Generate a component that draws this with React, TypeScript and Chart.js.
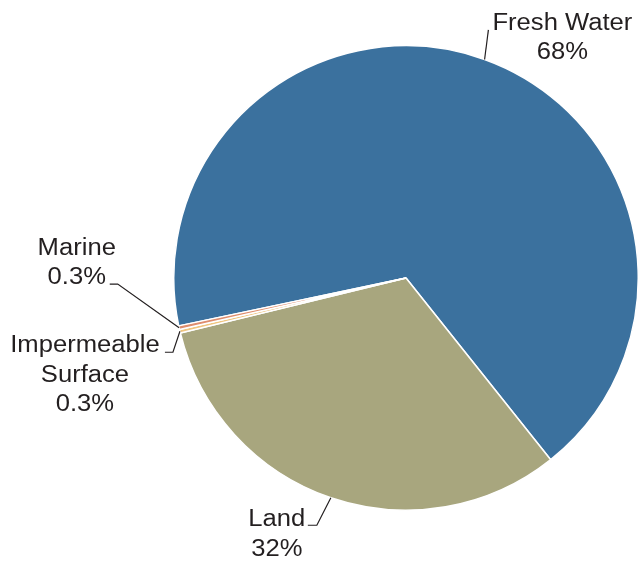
import React, { useEffect, useRef } from "react";
import { Chart, registerables } from "chart.js";

Chart.register(...registerables);

const categories = ["Fresh Water", "Land", "Impermeable Surface", "Marine"];
const values = [67.6, 31.9, 0.25, 0.25];
const percentLabels = ["68%", "32%", "0.3%", "0.3%"];
const labelLines = [
  ["Fresh Water", "68%"],
  ["Land", "32%"],
  ["Impermeable", "Surface", "0.3%"],
  ["Marine", "0.3%"],
];
const colors = ["#3b719e", "#a8a67e", "#efc57f", "#de8d6d"];

// leader/label layout relative to each slice's outer-edge midpoint
const labelLayout = [
  { elbow: [3.8, -29.6], tail: 0, text: [74, 0], attach: 0 },
  { elbow: [-14, 27.5], tail: -9, text: [-31, 1], attach: 0 },
  { elbow: [-7, 21], tail: -8, text: [-80, 0], attach: 0 },
  { elbow: [-61.4, -43.6], tail: -8, text: [-33, 0], attach: 1 },
];

const LINE_H = 29.5;
const TEXT_SCALE_X = 1.09;

const leaderPlugin = {
  id: "leaderLabels",
  afterDraw(chart: any) {
    const ctx = chart.ctx;
    const meta = chart.getDatasetMeta(0);
    ctx.save();
    meta.data.forEach((arc: any, i: number) => {
      const p = arc.getProps(["x", "y", "startAngle", "endAngle", "outerRadius"], true);
      const mid = (p.startAngle + p.endAngle) / 2;
      const ax = p.x + Math.cos(mid) * p.outerRadius;
      const ay = p.y + Math.sin(mid) * p.outerRadius;
      const lay = labelLayout[i];
      const ex = ax + lay.elbow[0];
      const ey = ay + lay.elbow[1];
      const tx = ex + lay.tail;
      const ty = ey;
      ctx.strokeStyle = "#231f20";
      ctx.lineWidth = 1.2;
      ctx.beginPath();
      ctx.moveTo(ax, ay);
      ctx.lineTo(ex, ey);
      ctx.lineTo(tx, ty);
      ctx.stroke();

      const cx = tx + lay.text[0];
      const baseY = ty + lay.text[1] - lay.attach * LINE_H;
      ctx.fillStyle = "#231f20";
      ctx.font = '23.5px "Liberation Sans", Arial, sans-serif';
      ctx.textAlign = "center";
      ctx.textBaseline = "alphabetic";
      labelLines[i].forEach((line, j) => {
        ctx.save();
        ctx.translate(cx, baseY + j * LINE_H);
        ctx.scale(TEXT_SCALE_X, 1);
        ctx.fillText(line, 0, 0);
        ctx.restore();
      });
    });
    ctx.restore();
  },
};

export default function App() {
  const ref = useRef<HTMLCanvasElement>(null);
  useEffect(() => {
    if (!ref.current) return;
    const chart = new Chart(ref.current, {
      type: "pie",
      data: {
        labels: categories.map((c, i) => `${c} ${percentLabels[i]}`),
        datasets: [
          {
            data: values,
            backgroundColor: colors,
            borderColor: "#ffffff",
            borderWidth: 1.5,
          },
        ],
      },
      options: {
        responsive: false,
        maintainAspectRatio: false,
        animation: false,
        rotation: 258.1,
        layout: { padding: { left: 173, right: 0, top: 45, bottom: 50 } },
        plugins: {
          legend: { display: false },
          tooltip: { enabled: false },
        },
      },
      plugins: [leaderPlugin],
    });
    return () => chart.destroy();
  }, []);
  return (
    <div style={{ position: "absolute", left: 0, top: 0, width: 639, height: 561, background: "#fff" }}>
      <canvas ref={ref} width={639} height={561} style={{ width: 639, height: 561 }} />
    </div>
  );
}
